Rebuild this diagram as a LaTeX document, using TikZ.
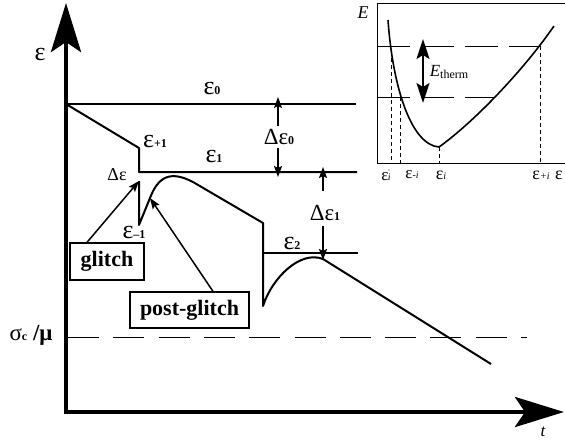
\documentclass[tikz,border=0pt]{standalone}
\usepackage{fontspec}
\setmainfont{Liberation Serif}
\usetikzlibrary{arrows.meta}
\newcommand\sbold[1]{{\fontsize{12}{12}\selectfont\bfseries #1}}
\newcommand\sital[1]{{\fontsize{10}{10}\selectfont\itshape #1}}
\begin{document}
\begin{tikzpicture}[x=1pt,y=-1pt,
  axis/.style={line width=4.5pt,-{Stealth[length=49pt,width=30pt,inset=10pt]}},
  curve/.style={line width=2pt,line join=round},
  ptr/.style={line width=1.5pt,-{Stealth[length=11pt,width=8pt,inset=2pt]}},
  gap/.style={line width=1.8pt,-{Stealth[length=11pt,width=8pt,inset=2pt]}},
  lab/.style={inner sep=0pt,font=\fontsize{26}{26}\selectfont},
  dlab/.style={inner sep=0pt,font=\fontsize{23}{23}\selectfont},
  slab/.style={inner sep=0pt,font=\fontsize{18}{18}\selectfont},
  boxlab/.style={draw,line width=1.3pt,inner sep=0pt,font=\fontsize{22}{22}\selectfont\bfseries},
  thinl/.style={line width=0.9pt},
  longdash/.style={line width=0.9pt,dash pattern=on 33pt off 11pt},
  shortdash/.style={line width=0.9pt,dash pattern=on 4pt off 3pt}]
\useasboundingbox (0,0) rectangle (565,440);

% axes
\coordinate (orig) at (66,412);
\coordinate (ytop) at (66,3);
\coordinate (xend) at (564,412);
\draw[axis] ([yshift=-2.25pt]orig) -- (ytop);
\draw[axis] ([xshift=-2.25pt]orig) -- (xend);
\node[lab] (epsax) at (40,54) {ε};
\node[inner sep=0pt,font=\fontsize{17}{17}\selectfont\itshape] (tlab) at (543,432) {t};

% levels
\coordinate (s0) at (66,104);
\coordinate (e0end) at (356,104);
\coordinate (p1) at (139,148);
\coordinate (p1b) at (139,172);
\coordinate (e1end) at (357,172);
\draw[curve] (s0) -- (e0end);
\draw[curve] (s0) -- (p1) -- (p1b) -- (e1end);

\coordinate (gtip) at (139,181);
\coordinate (m1) at (139,225);
\coordinate (ptip) at (150,198);
\coordinate (q1) at (193,182);
\coordinate (q2) at (263,223);
\coordinate (q3) at (263,306);
\coordinate (q4) at (323,259);
\coordinate (q5) at (491,364);
\draw[curve] (gtip) -- (m1) -- (ptip) .. controls (158,177) and (170,170) .. (q1) -- (q2) -- (q3)
  .. controls (272,278) and (300,250) .. (q4) -- (q5);
\coordinate (e2s) at (263,253);
\coordinate (e2end) at (358,253);
\draw[curve] (e2s) -- (e2end);

% critical line
\coordinate (c0) at (68,337);
\coordinate (c1) at (527,337);
\draw[line width=1pt,dash pattern=on 31pt off 14.3pt] (c0) -- (c1);
\node[inner sep=0pt,font=\fontsize{23}{23}\selectfont] (sig) at (31,335) {σ\sbold{c} {\bfseries /μ}};

% labels
\node[lab] (e0) at (212,88) {ε\sbold{0}};
\node[lab] (ep1) at (155,141) {ε\sbold{+1}};
\node[lab] (e1) at (214,156) {ε\sbold{1}};
\node[slab] (de) at (117,175) {Δε};
\node[lab] (em1) at (134,232) {ε\sbold{–1}};
\node[lab] (e2) at (292,243) {ε\sbold{2}};
\node[dlab] (de0) at (279,137) {Δε\sbold{0}};
\node[dlab] (de1) at (325,213) {Δε\sbold{1}};

% gap arrows
\coordinate (a0t) at (278,97);
\coordinate (a0b) at (278,177);
\draw[gap] (278,126) -- (a0t);
\draw[gap] (278,148) -- (a0b);
\coordinate (a1t) at (323,167);
\coordinate (a1b) at (323,260);
\draw[gap] (323,191) -- (a1t);
\draw[gap] (323,226) -- (a1b);

% boxes
\node[boxlab,minimum width=74pt,minimum height=37pt] (glitch) at (107,261.5) {glitch};
\node[boxlab,minimum width=119pt,minimum height=36pt] (post) at (189.5,310) {post-glitch};
\draw[ptr] ([xshift=-20pt]glitch.north) -- (gtip);
\draw[ptr] ([xshift=23.5pt]post.north) -- (ptip);

% inset
\draw[thinl] (565,3) -- (377,3) -- (377,163) -- (565,163);
\node[inner sep=0pt,font=\fontsize{18}{18}\selectfont\itshape] (Elab) at (363,13) {E};
\coordinate (w0) at (388,20);
\coordinate (wmin) at (439,147);
\coordinate (w1) at (554,26);
\draw[line width=1.6pt] (w0) .. controls (393,90) and (412,145) .. (wmin)
  .. controls (470,125) and (520,75) .. (w1);
\draw[longdash] (377,46) -- (540,46);
\draw[longdash] (377,97) -- (495,97);
\draw[shortdash] (391,58) -- (391,163);
\draw[shortdash] (400,97) -- (400,163);
\draw[shortdash] (439,147) -- (439,163);
\draw[shortdash] (540,46) -- (540,163);
\coordinate (th1) at (423,39);
\coordinate (th2) at (423,103);
\draw[line width=1.6pt,{Stealth[length=20pt,width=13pt,inset=4pt]}-{Stealth[length=20pt,width=13pt,inset=4pt]}] (th1) -- (th2);
\node[inner sep=0pt,font=\fontsize{17}{17}\selectfont] (eth) at (449,72) {\itshape E\upshape\raisebox{-2pt}{\fontsize{12}{12}\selectfont therm}};
\node[slab,font=\fontsize{17}{17}\selectfont] (lpi) at (386,175) {ε\kern-0.5pt\rlap{\raisebox{6pt}{\fontsize{7}{7}\selectfont ’}}\sital{i}};
\node[slab,font=\fontsize{17}{17}\selectfont] (lmi) at (412,175) {ε\sital{-i}};
\node[slab] (li) at (441,175) {ε\sital{i}};
\node[slab] (lpli) at (541,175) {ε\sital{+i}};
\node[slab,anchor=west] (leps) at (555,175) {ε};
\end{tikzpicture}
\end{document}
